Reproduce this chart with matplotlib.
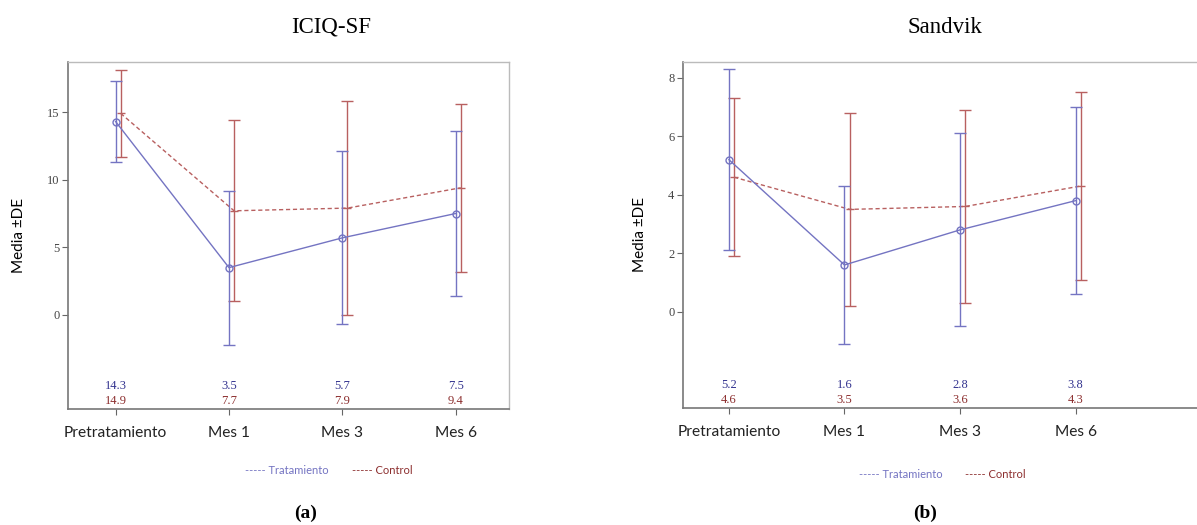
import matplotlib
matplotlib.use("Agg")
import matplotlib.pyplot as plt

# --- Datos ---
categorias = ["Pretratamiento", "Mes 1", "Mes 3", "Mes 6"]

iciq_trat_media = [14.3, 3.5, 5.7, 7.5]
iciq_trat_de = [3.0, 5.7, 6.4, 6.1]
iciq_ctrl_media = [14.9, 7.7, 7.9, 9.4]
iciq_ctrl_de = [3.2, 6.7, 7.9, 6.2]

sand_trat_media = [5.2, 1.6, 2.8, 3.8]
sand_trat_de = [3.1, 2.7, 3.3, 3.2]
sand_ctrl_media = [4.6, 3.5, 3.6, 4.3]
sand_ctrl_de = [2.7, 3.3, 3.3, 3.2]

# --- Estilo ---
C_TRAT = "#7474c2"
C_CTRL = "#b86060"
C_TRAT_TXT = "#33338f"
C_CTRL_TXT = "#8c2e2e"
SERIF = ["Liberation Serif", "DejaVu Serif"]
SANS = ["Lato", "DejaVu Sans"]
OFFSET = 0.045


def dibujar_panel(ax, titulo, titulo_x, t_media, t_de, c_media, c_de, yticks, ylim, xlim):
    x = list(range(len(categorias)))
    xc = [v + OFFSET for v in x]

    ax.errorbar(x, t_media, yerr=t_de, color=C_TRAT, lw=1.0, elinewidth=1.0,
                capsize=4, capthick=1.0, marker="o", ms=5, mfc="none", mec=C_TRAT,
                ls="-", zorder=3)
    ax.errorbar(xc, c_media, yerr=c_de, color=C_CTRL, lw=1.0, elinewidth=1.0,
                capsize=4, capthick=1.0, marker="_", ms=6, ls=(0, (3, 2)), zorder=2)

    # medias bajo las curvas
    for xi, tm, cm in zip(x, t_media, c_media):
        ax.text(xi, 0.067, f"{tm}", transform=ax.get_xaxis_transform(), ha="center",
                va="center", color=C_TRAT_TXT, fontsize=9, family=SERIF)
        ax.text(xi, 0.024, f"{cm}", transform=ax.get_xaxis_transform(), ha="center",
                va="center", color=C_CTRL_TXT, fontsize=9, family=SERIF)

    ax.set_xlim(*xlim)
    ax.set_ylim(*ylim)
    ax.set_xticks(x)
    ax.set_xticklabels(categorias, fontsize=11.2, family=SANS, color="#222222")
    ax.set_yticks(yticks)
    ax.set_yticklabels([str(v) for v in yticks], fontsize=9, family=SERIF,
                       color="#444444")
    ax.tick_params(axis="x", length=4, color="#666666", pad=8)
    ax.tick_params(axis="y", length=4, color="#666666", pad=2)
    ax.set_ylabel("Media ±DE", fontsize=11, family=SANS, labelpad=15)

    for s in ["left", "bottom"]:
        ax.spines[s].set_color("#777777")
        ax.spines[s].set_linewidth(1.2)
    for s in ["top", "right"]:
        ax.spines[s].set_color("#bbbbbb")
        ax.spines[s].set_linewidth(1.0)

    ax.set_title(titulo, fontsize=16.5, family=SERIF, pad=21, x=titulo_x)


fig = plt.figure(figsize=(11.97, 5.25), dpi=100)

ax1 = fig.add_axes([0.0568, 0.2210, 0.3684, 0.6609])
dibujar_panel(ax1, "ICIQ-SF", 0.596, iciq_trat_media, iciq_trat_de, iciq_ctrl_media,
              iciq_ctrl_de, [0, 5, 10, 15], (-6.95, 18.7), (-0.42, 3.47))

ax2 = fig.add_axes([0.5703, 0.2229, 0.4317, 0.6596])
dibujar_panel(ax2, "Sandvik", 0.508, sand_trat_media, sand_trat_de, sand_ctrl_media,
              sand_ctrl_de, [0, 2, 4, 6, 8], (-3.29, 8.55), (-0.40, 4.07))
ax2.spines["right"].set_visible(False)

# leyendas manuales
fig.text(245 / 1197, 1 - 471 / 525, "----- Tratamiento", color=C_TRAT, fontsize=8,
         family=SANS, va="center")
fig.text(352 / 1197, 1 - 471 / 525, "----- Control", color=C_CTRL_TXT, fontsize=8,
         family=SANS, va="center")
fig.text(859 / 1197, 1 - 474 / 525, "----- Tratamiento", color=C_TRAT, fontsize=8,
         family=SANS, va="center")
fig.text(965 / 1197, 1 - 474 / 525, "----- Control", color=C_CTRL_TXT, fontsize=8,
         family=SANS, va="center")

fig.text(306 / 1197, 1 - 513 / 525, "(a)", fontsize=14, family=SERIF,
         fontweight="bold", ha="center", va="center")
fig.text(925 / 1197, 1 - 513 / 525, "(b)", fontsize=14, family=SERIF,
         fontweight="bold", ha="center", va="center")

fig.savefig("out.png", dpi=100)
